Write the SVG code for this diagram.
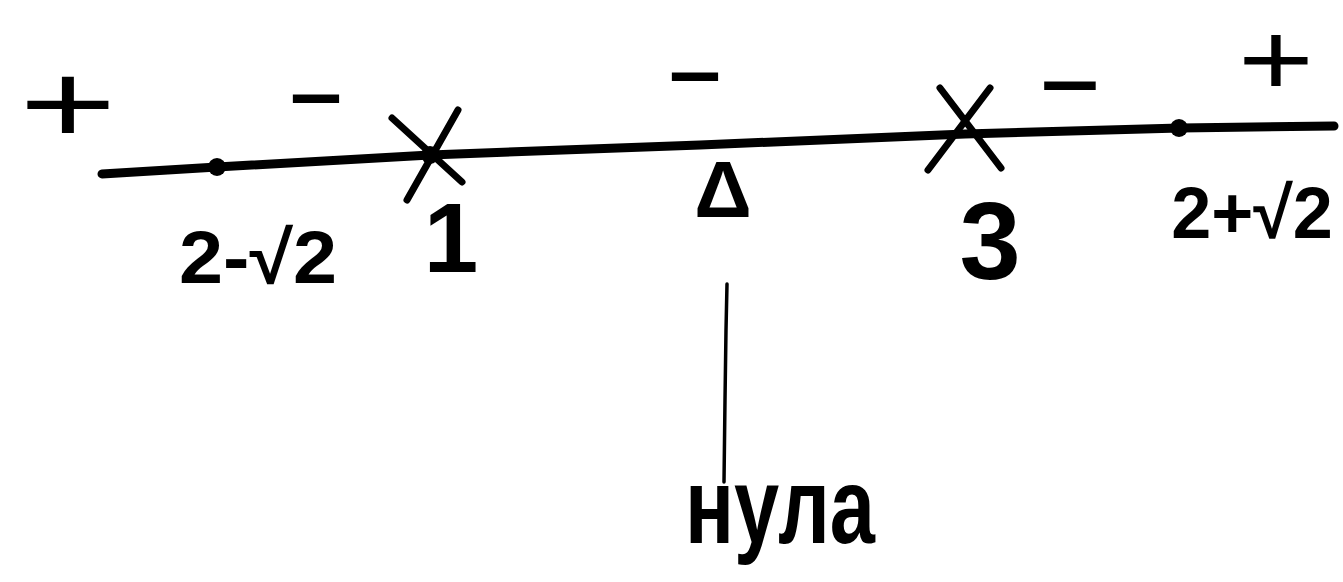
<svg xmlns="http://www.w3.org/2000/svg" width="1343" height="582" viewBox="0 0 1343 582">
<style>
.ln{fill:none;stroke:#000;stroke-linecap:round;stroke-linejoin:round}
.t{font-family:"Liberation Sans",Arial,sans-serif;fill:#000;text-anchor:middle}
.b{font-weight:bold}
</style>
<rect width="1343" height="582" fill="#fff"/>
<g id="connectors">
<path class="ln" stroke-width="9" d="M102,174 L217,167 L430,155 L700,145 L965,134 L1180,128 L1334,126"/>
<path class="ln" stroke-width="3.5" d="M727,284 L726,330 L725,400 L724,482"/>
</g>
<g id="node-2-sqrt2">
<circle cx="217" cy="167" r="9"/>
<text class="t b" x="258" y="283" font-size="74" textLength="158" lengthAdjust="spacingAndGlyphs">2-√2</text>
</g>
<g id="node-1">
<path class="ln" stroke-width="7" d="M392,118 L462,182 M458,110 L407,200"/>
<circle cx="430" cy="155" r="9"/>
<text class="t b" x="451" y="272" font-size="98">1</text>
</g>
<g id="node-delta">
<text class="t b" x="723" y="217" font-size="80">Δ</text>
</g>
<g id="node-3">
<path class="ln" stroke-width="7" d="M940,88 L1001,168 M990,88 L928,170"/>
<text class="t" x="990" y="279" font-size="110" font-weight="bold">3</text>
</g>
<g id="node-2-plus-sqrt2">
<circle cx="1179" cy="128" r="9"/>
<text class="t b" x="1252" y="238" font-size="72">2+√2</text>
</g>
<g id="node-zero">
<text class="t b" x="780" y="543" font-size="108" textLength="190" lengthAdjust="spacingAndGlyphs">нула</text>
</g>
<g id="signs">
<text class="t" font-size="115" transform="translate(68,143) scale(1.45,1)">+</text>
<text class="t b" font-size="70" transform="translate(316,117) scale(2.6,1)">-</text>
<text class="t b" font-size="70" transform="translate(695,95) scale(2.6,1)">-</text>
<text class="t b" font-size="70" transform="translate(1070,104) scale(2.9,1)">-</text>
<text class="t" font-size="104" transform="translate(1276,95) scale(1.25,1)">+</text>
</g>
</svg>
